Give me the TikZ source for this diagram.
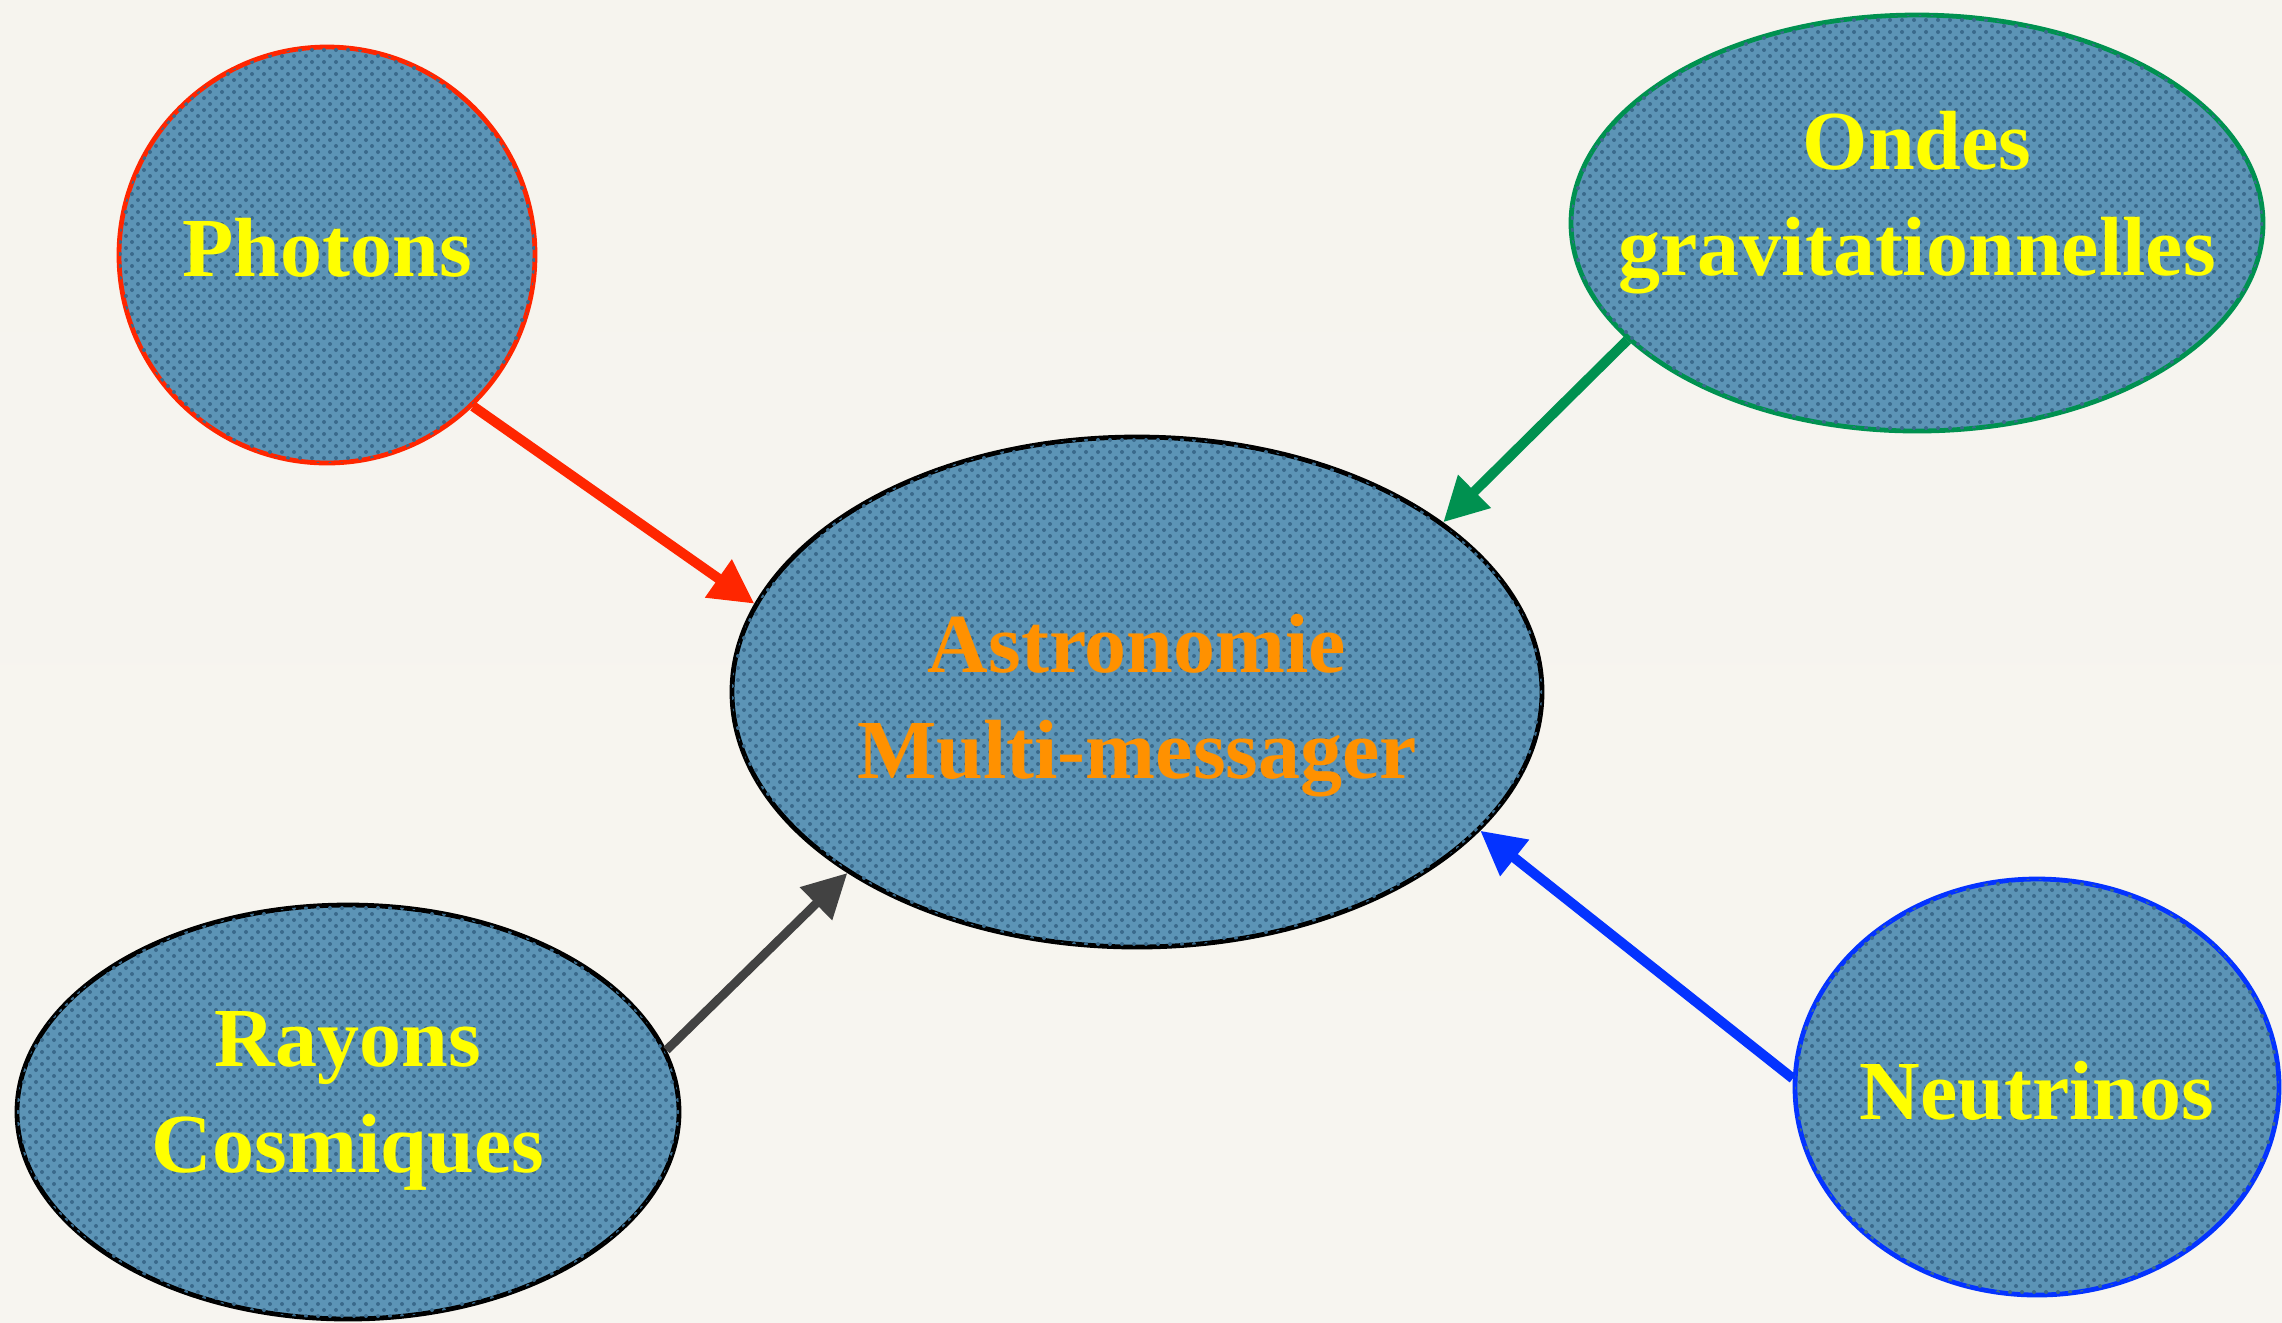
\documentclass[tikz,border=0pt]{standalone}
\usepackage{fontspec}
\setmainfont{Liberation Serif}
\usetikzlibrary{shapes.geometric,arrows.meta,patterns}
\definecolor{bgtop}{RGB}{246,244,238}
\definecolor{bgmid}{RGB}{232,229,224}
\definecolor{bgbot}{RGB}{247,245,240}
\definecolor{blobfill}{RGB}{92,148,182}
\definecolor{blobdots}{RGB}{58,106,140}
\definecolor{txtyellow}{RGB}{255,255,0}
\definecolor{txtorange}{RGB}{255,145,0}
\definecolor{cred}{RGB}{255,38,0}
\definecolor{cgreen}{RGB}{0,145,80}
\definecolor{cgray}{RGB}{66,66,66}
\definecolor{cblue}{RGB}{4,51,255}
\newcommand{\mylines}[2][0pt]{\makebox[0pt]{\raisebox{#1}[\height][\depth]{\begin{tabular}{@{}c@{}}#2\end{tabular}}}}
\tikzset{
  blob/.style={ellipse, inner sep=0pt, line width=1.2pt, fill=blobfill,
    postaction={pattern=crosshatch dots, pattern color=blobdots},
    text=txtyellow,
    font=\bfseries\fontsize{21}{26.5}\selectfont},
  link/.style={line width=2.5pt, -{Triangle[length=11pt,width=11pt]}}
}
\begin{document}
\begin{tikzpicture}[x=0.25pt,y=-0.25pt]
\useasboundingbox (0,0) rectangle (2282,1322);
\shade[top color=bgtop, middle color=bgmid, bottom color=bgbot] (0,0) rectangle (2282,1322);

\node[blob, draw=cred, minimum width=104pt, minimum height=104pt] (photons) at (327,255) {\mylines{Photons}};
\node[blob, draw=cgreen, minimum width=173pt, minimum height=104pt] (ondes) at (1917,223) {\mylines[5.4pt]{Ondes\\gravitationnelles}};
\node[blob, draw=black, text=txtorange, minimum width=202.5pt, minimum height=127.5pt] (astro) at (1137,692) {\mylines[-3pt]{Astronomie\\Multi-messager}};
\node[blob, draw=black, minimum width=165.5pt, minimum height=103.5pt] (rayons) at (348,1112) {\mylines[3.5pt]{Rayons\\Cosmiques}};
\node[blob, draw=cblue, minimum width=121pt, minimum height=104pt] (neutrinos) at (2037,1087) {\mylines[-2.7pt]{Neutrinos}};

\draw[link, cred] (photons.-46) -- (astro.167);
\draw[link, cgreen] (ondes.202) -- (astro.29);
\draw[link, cgray, line width=2.2pt] (rayons.11) -- (astro.212);
\draw[link, cblue] (neutrinos.178) -- (astro.-22);
\end{tikzpicture}
\end{document}
